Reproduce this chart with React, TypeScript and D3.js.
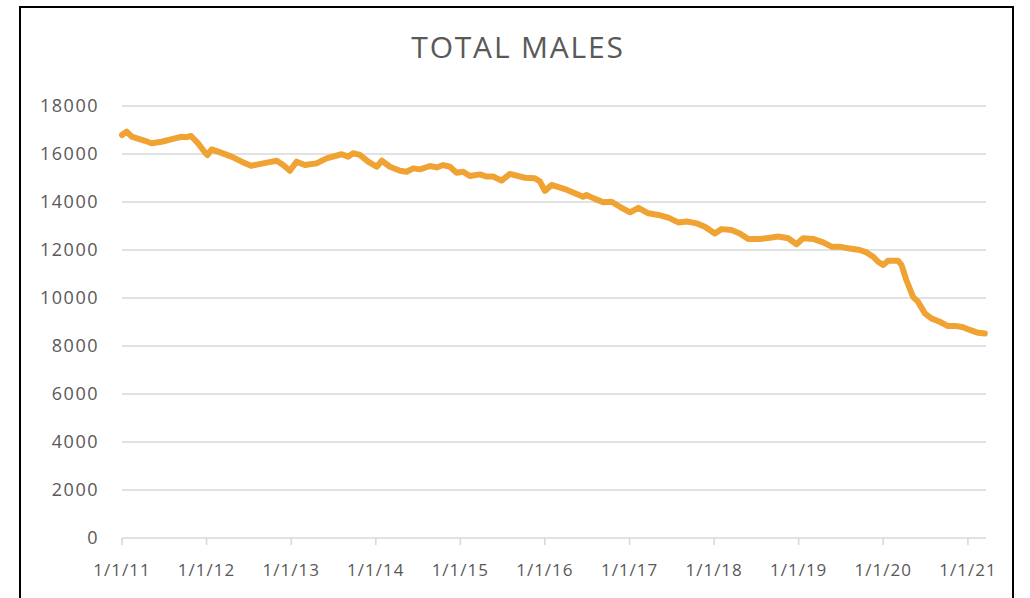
import React from "react";
import * as d3 from "d3";

const title = "TOTAL MALES";

const dates: string[] = [
  "2011-01-01","2011-01-21","2011-02-12","2011-04-10","2011-05-09","2011-06-21","2011-08-18","2011-09-16","2011-10-07","2011-10-26",
  "2011-11-26","2011-12-28","2012-01-05","2012-01-23","2012-02-20","2012-04-18","2012-06-01","2012-07-11","2012-08-11","2012-09-23",
  "2012-10-30","2012-11-27","2012-12-26","2013-01-24","2013-03-01","2013-04-20","2013-06-02","2013-08-06","2013-09-04","2013-09-25",
  "2013-10-24","2013-11-29","2014-01-05","2014-01-27","2014-03-03","2014-04-16","2014-05-14","2014-06-12","2014-07-11","2014-08-23",
  "2014-09-21","2014-10-19","2014-11-17","2014-12-16","2015-01-13","2015-02-11","2015-03-27","2015-04-25","2015-05-23","2015-06-28",
  "2015-08-03","2015-10-07","2015-11-19","2015-12-11","2016-01-01","2016-01-30","2016-03-27","2016-05-10","2016-06-14","2016-06-29",
  "2016-08-04","2016-09-09","2016-10-15","2016-11-20","2017-01-03","2017-02-08","2017-03-23","2017-05-05","2017-06-17","2017-07-30",
  "2017-09-05","2017-10-18","2017-11-22","2018-01-04","2018-02-02","2018-03-17","2018-04-22","2018-05-28","2018-07-18","2018-08-30",
  "2018-10-05","2018-11-17","2018-12-23","2019-01-20","2019-03-04","2019-04-17","2019-05-23","2019-06-28","2019-08-03","2019-09-22",
  "2019-10-21","2019-11-19","2019-12-10","2020-01-01","2020-01-22","2020-03-05","2020-03-20","2020-04-10","2020-05-09","2020-05-30",
  "2020-06-29","2020-07-27","2020-09-01","2020-10-07","2020-11-12","2020-12-11","2021-01-09","2021-02-14","2021-03-15"
];

const totalMales: number[] = [
  16790,16930,16720,16550,16450,16510,16650,16720,16700,16750,
  16440,16030,15960,16190,16100,15890,15680,15510,15570,15650,
  15720,15540,15300,15680,15540,15610,15820,15990,15890,16030,
  15960,15680,15470,15720,15470,15300,15260,15400,15360,15500,
  15440,15540,15470,15220,15260,15080,15150,15060,15060,14890,
  15170,15010,14990,14850,14460,14710,14540,14360,14220,14290,
  14130,13990,14010,13800,13570,13760,13530,13460,13350,13150,
  13190,13110,12970,12690,12870,12830,12690,12460,12460,12510,
  12560,12490,12240,12490,12460,12320,12140,12140,12070,12000,
  11900,11720,11510,11375,11550,11550,11380,10750,10050,9850,
  9360,9150,9010,8830,8830,8780,8670,8550,8520
];

const yTicks: number[] = [0, 2000, 4000, 6000, 8000, 10000, 12000, 14000, 16000, 18000];
const xTickLabels: string[] = ["1/1/11","1/1/12","1/1/13","1/1/14","1/1/15","1/1/16","1/1/17","1/1/18","1/1/19","1/1/20","1/1/21"];

const parse = d3.timeParse("%Y-%m-%d");

export default function App() {
  const W = 1030, H = 598;
  const left = 122, right = 986, top = 106, bottom = 538;
  const x = d3.scaleTime()
    .domain([parse("2011-01-01") as Date, parse("2021-03-20") as Date])
    .range([left, right]);
  const y = d3.scaleLinear().domain([0, 18000]).range([bottom, top]);
  const pts = dates.map((d, i) => ({ d: parse(d) as Date, v: totalMales[i] }));
  const line = d3.line<{ d: Date; v: number }>()
    .x((p) => x(p.d))
    .y((p) => y(p.v))
    .curve(d3.curveLinear);
  const tickDates = xTickLabels.map((_, i) => new Date(2011 + i, 0, 1));
  const font = "'Open Sans', 'DejaVu Sans', sans-serif";
  const grey = "#595959";

  return (
    <svg width={W} height={H} style={{ position: "absolute", left: 0, top: 0, background: "#fff" }}>
      <rect x={0} y={0} width={W} height={H} fill="#fff" />
      <rect x={20} y={7} width={993} height={620} fill="#fff" stroke="#000" strokeWidth={2} />
      <text x={518} y={58} textAnchor="middle" fontFamily={font} fontSize={30} letterSpacing={1.8} fill={grey}>{title}</text>
      {yTicks.map((t) => (
        <g key={t}>
          <line x1={left} x2={right} y1={y(t)} y2={y(t)} stroke="#d9d9d9" strokeWidth={1.6} />
          <text x={99} y={y(t) + 6} textAnchor="end" fontFamily={font} fontSize={18} letterSpacing={1.5} fill={grey}>{t}</text>
        </g>
      ))}
      {tickDates.map((d, i) => (
        <g key={i}>
          <line x1={x(d)} x2={x(d)} y1={bottom} y2={bottom + 7} stroke="#d9d9d9" strokeWidth={1.6} />
          <text x={x(d)} y={576} textAnchor="middle" fontFamily={font} fontSize={17} letterSpacing={1} fill={grey}>{xTickLabels[i]}</text>
        </g>
      ))}
      <path d={line(pts) || ""} fill="none" stroke="#F0A232" strokeWidth={6} strokeLinejoin="round" strokeLinecap="round" />
    </svg>
  );
}
